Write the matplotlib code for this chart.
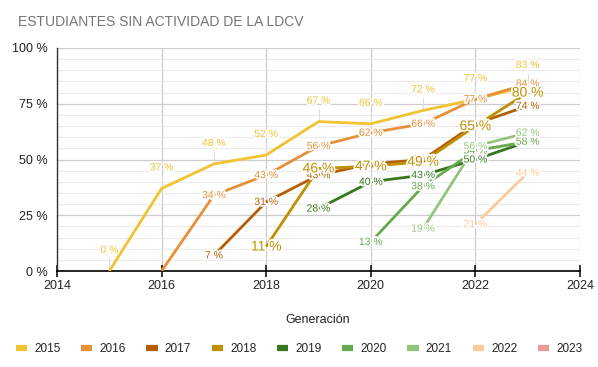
import numpy as np
import matplotlib
matplotlib.use("Agg")
import matplotlib.pyplot as plt
import matplotlib.patheffects as pe
from matplotlib.lines import Line2D

plt.rcParams['font.family'] = ['Liberation Sans', 'DejaVu Sans']

years = [2015, 2016, 2017, 2018, 2019, 2020, 2021, 2022, 2023]
series_names = ["2015", "2016", "2017", "2018", "2019", "2020", "2021", "2022", "2023"]
colors = ["#f1c232", "#e69138", "#b45f06", "#bf9000", "#38761d",
          "#6aa84f", "#93c47d", "#f9cb9c", "#ea9999"]
N = None
s2015 = [0, 37, 48, 52, 67, 66, 72, 77, 83]
s2016 = [N, 0, 34, 43, 56, 62, 66, 77, 84]
s2017 = [N, N, 7, 31, 43, 48, 50, 66, 74]
s2018 = [N, N, N, 11, 46, 47, 49, 65, 80]
s2019 = [N, N, N, N, 28, 40, 43, 50, 58]
s2020 = [N, N, N, N, N, 13, 38, 54, 58]
s2021 = [N, N, N, N, N, N, 19, 56, 62]
s2022 = [N, N, N, N, N, N, N, 21, 44]
s2023 = [N, N, N, N, N, N, N, N, N]
all_series = [s2015, s2016, s2017, s2018, s2019, s2020, s2021, s2022, s2023]

fig = plt.figure(figsize=(5.98, 3.67), dpi=100)
ax = fig.add_axes([57/598, 1-271/367, (580-57)/598, (271-48)/367])

ax.set_xlim(2014, 2024)
ax.set_ylim(0, 100)
ax.set_xticks([2014, 2016, 2018, 2020, 2022, 2024])
ax.set_yticks([0, 25, 50, 75, 100])
ax.set_yticks(np.arange(0, 101, 5), minor=True)
ax.set_yticklabels(["0 %", "25 %", "50 %", "75 %", "100 %"])
ax.grid(True, which='major', axis='both', color='#cccccc', lw=0.9, zorder=0)
ax.grid(True, which='minor', axis='y', color='#ebebeb', lw=0.8, zorder=0)
ax.set_axisbelow(True)
for s in ['top', 'right']:
    ax.spines[s].set_visible(False)
ax.spines['left'].set_color('#333333')
ax.spines['bottom'].set_color('#000000')
ax.spines['left'].set_linewidth(1.0)
ax.spines['bottom'].set_linewidth(1.2)
ax.tick_params(axis='x', direction='inout', length=9, width=1.1, color='black',
               labelsize=9, labelcolor='#222222', pad=2)
ax.tick_params(axis='y', which='both', length=0, labelsize=9, labelcolor='#222222', pad=7)

halo = [pe.withStroke(linewidth=2.5, foreground='white')]

for name, col, vals in zip(series_names, colors, all_series):
    xs = [x for x, v in zip(years, vals) if v is not None]
    ys = [v for v in vals if v is not None]
    ax.plot(xs, ys, color=col, lw=2, zorder=3, solid_capstyle='butt')

for name, col, vals in zip(series_names, colors, all_series):
    for x, v in zip(years, vals):
        if v is None:
            continue
        if name == "2015":
            ax.plot([x, x], [v, v + 5.5], color='#dddddd', lw=0.8, zorder=2)
            ax.annotate(f"{v} %", (x, v), xytext=(0, 21), textcoords='offset pixels',
                        ha='center', va='center', fontsize=7.5, color=col,
                        path_effects=halo, zorder=5)
        elif v == 0:
            continue
        elif name == "2018":
            ax.annotate(f"{v} %", (x, v), xytext=(0, 0), textcoords='offset pixels',
                        ha='center', va='center', fontsize=10, color=col,
                        path_effects=halo, zorder=6)
        else:
            ax.annotate(f"{v} %", (x, v), xytext=(0, 0), textcoords='offset pixels',
                        ha='center', va='center', fontsize=7.5, color=col,
                        path_effects=halo, zorder=5)

fig.text(18/598, 1-22/367, "ESTUDIANTES SIN ACTIVIDAD DE LA LDCV", fontsize=10,
         color='#757575', ha='left', va='center')
fig.text(318/598, 1-320/367, "Generación", fontsize=9, color='#222222',
         ha='center', va='center')

handles = [Line2D([0], [0], color=c, lw=4.5, solid_capstyle='butt') for c in colors]
fig.legend(handles, series_names, loc='center', bbox_to_anchor=(299/598, 1-349/367),
           ncol=9, frameon=False, fontsize=8.5, handlelength=0.95, handletextpad=0.6,
           columnspacing=1.75, labelcolor='#222222', borderpad=0, borderaxespad=0)

fig.savefig("out.png", dpi=100)
